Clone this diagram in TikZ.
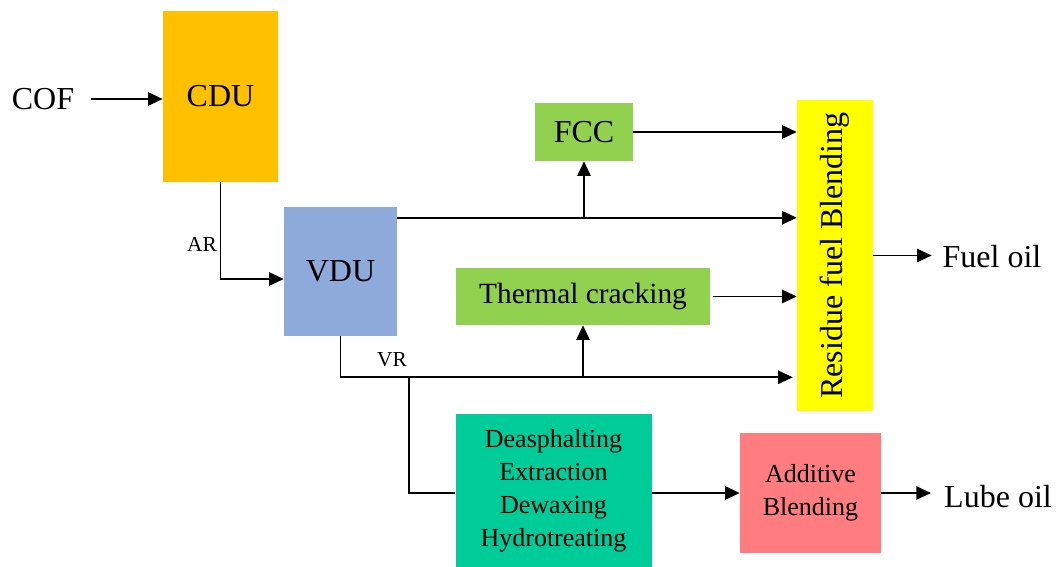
\documentclass[tikz,border=0pt]{standalone}
\usepackage{fontspec}
\setmainfont{Liberation Serif}
\usetikzlibrary{arrows.meta,calc}

\definecolor{naranja}{HTML}{FFC000}
\definecolor{azulvdu}{HTML}{8EAADB}
\definecolor{verde}{HTML}{92D050}
\definecolor{amarillo}{HTML}{FFFF00}
\definecolor{turquesa}{HTML}{00CC99}
\definecolor{rosa}{HTML}{FF7C80}

\tikzset{
  unidad/.style={rectangle, inner sep=0pt, align=center, font=\fontsize{24}{28}\selectfont},
  proceso/.style={unidad, font=\fontsize{19.5}{24.75}\selectfont},
  texto/.style={inner sep=0pt, font=\fontsize{24}{28}\selectfont},
  rotulo/.style={inner sep=0pt, font=\fontsize{16}{19}\selectfont},
  linea/.style={line width=1.3pt},
  flujo/.style={linea, -{Triangle[length=11pt, width=10pt]}}
}

\begin{document}
\begin{tikzpicture}[x=0.75pt, y=-0.75pt]
    \useasboundingbox (0,0) rectangle (1056,567);

    % Unidades de destilacion
    \node[unidad, fill=naranja, minimum width=86.25pt, minimum height=128.25pt] (cdu) at (220.5,96.5) {CDU};
    \node[unidad, fill=azulvdu, minimum width=84.75pt, minimum height=96.75pt] (vdu) at (340.5,271.5) {VDU};

    % Conversion y mezcla de residuo
    \node[unidad, fill=verde, minimum width=73.5pt, minimum height=43.5pt] (fcc) at (584,132) {FCC};
    \node[unidad, fill=verde, minimum width=190.5pt, minimum height=42.75pt, font=\fontsize{22}{26}\selectfont] (termico) at (583,296.5) {Thermal cracking};
    \node[unidad, fill=amarillo, minimum width=233.25pt, minimum height=57pt, rotate=90] (mezcla) at (835,255.5) {Residue fuel Blending};

    % Linea de lubricantes
    \node[proceso, fill=turquesa, minimum width=147pt, minimum height=114.75pt] (bases) at (553.5,490.5) {Deasphalting\\Extraction\\Dewaxing\\Hydrotreating};
    \node[proceso, fill=rosa, minimum width=105.75pt, minimum height=90pt] (aditivos) at (810.5,493) {Additive\\Blending};

    % Entradas y productos
    \node[texto] (cof) at (43,99) {COF};
    \node[texto] (fuel) at (992,257) {Fuel oil};
    \node[texto] (lube) at (998,497) {Lube oil};

    % Corrientes
    \draw[flujo, shorten <=12.75pt] (cof.east) -- (cdu.west |- cof.east);
    \draw[flujo] (cdu.south) |- ($(vdu.west)+(0,7.5)$);
    \node[rotulo] (ar) at (202,244) {AR};

    \coordinate (vgo) at ($(vdu.north east)+(0,11)$);
    \draw[flujo] (vgo) -- (vgo -| mezcla.north);
    \draw[flujo] (vgo -| fcc.south) -- (fcc.south);
    \draw[flujo] (fcc.east) -- (fcc.east -| mezcla.north);
    \draw[flujo, shorten <=2pt] (termico.east) -- (termico.east -| mezcla.north);

    \coordinate (vr) at ($(vdu.south)+(0,41)$);
    \draw[flujo, shorten >=3pt] (vdu.south) |- (vr -| mezcla.north);
    \node[rotulo] (vrlab) at (392,360) {VR};
    \draw[flujo] (vr -| termico.south) -- (termico.south);

    \coordinate (ramal) at (409,377);
    \draw[linea] (ramal) |- (bases.west |- aditivos.west);
    \draw[flujo] (bases.east |- aditivos.west) -- (aditivos.west);

    % Salidas
    \draw[flujo, shorten >=8pt] (mezcla.south) -- (mezcla.south -| fuel.west);
    \draw[flujo, shorten >=9.75pt] (aditivos.east) -- (aditivos.east -| lube.west);
\end{tikzpicture}
\end{document}
